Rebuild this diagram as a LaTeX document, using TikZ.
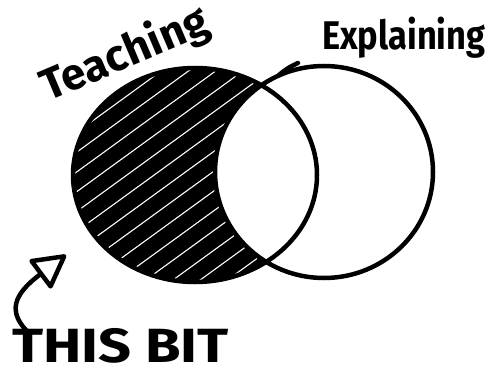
\documentclass[tikz,border=0pt]{standalone}
\usepackage{fontspec}
\newfontfamily\hand{Fira Sans}
\usetikzlibrary{arrows.meta}
\tikzset{
  outline/.style={line width=4.5pt, black},
  hatch/.style={line width=14.6pt, black},
  label/.style={font=\hand\bfseries, inner sep=0pt, text=black},
  arrowline/.style={line width=4.5pt, black, line cap=round,
    -{Triangle[open, length=36pt, width=38pt, line join=round]}}
}
\begin{document}
\begin{tikzpicture}[x=1pt, y=-1pt]
\fill[white] (0,0) rectangle (492,377);
\useasboundingbox (0,0) rectangle (492,377);

% centres
\coordinate (lc) at (195,175);
\coordinate (rc) at (324,172);

% hatched left set
\begin{scope}
  \clip (lc) ellipse [x radius=122, y radius=107];
  \begin{scope}[shift={(lc)}, rotate=36]
    \foreach \k in {-12,...,12}
      \draw[hatch] (-220,{\k*16}) -- (220,{\k*16});
  \end{scope}
\end{scope}
% intersection left white
\fill[white] (rc) ellipse [x radius=109, y radius=106];

% outlines
\draw[outline] (lc) ellipse [x radius=122, y radius=107];
\draw[outline] (rc) ellipse [x radius=109, y radius=106];
\draw[outline, line cap=round] (279,75) to[bend left=8] (298,63);

% labels
\node[label, font=\hand\bfseries\fontsize{48}{48}\selectfont, anchor=base west, rotate=23] (teach) at (48,102) {\fontsize{44}{44}\selectfont Teaching};
\node[label, font=\hand\bfseries\fontsize{40}{40}\selectfont, anchor=base west, xscale=0.86] (expl) at (322,50) {Explaining};
\node[label, font=\hand\bfseries\fontsize{48}{48}\selectfont, anchor=base west, xscale=1.2, text depth=0pt] (thisbit) at (12,362) {THIS BIT};

% arrow
\coordinate (arrowstart) at (30,334);
\coordinate (arrowtip) at (66,255);
\draw[arrowline] (arrowstart) .. controls (6,312) and (14,294) .. (arrowtip);
\end{tikzpicture}
\end{document}
